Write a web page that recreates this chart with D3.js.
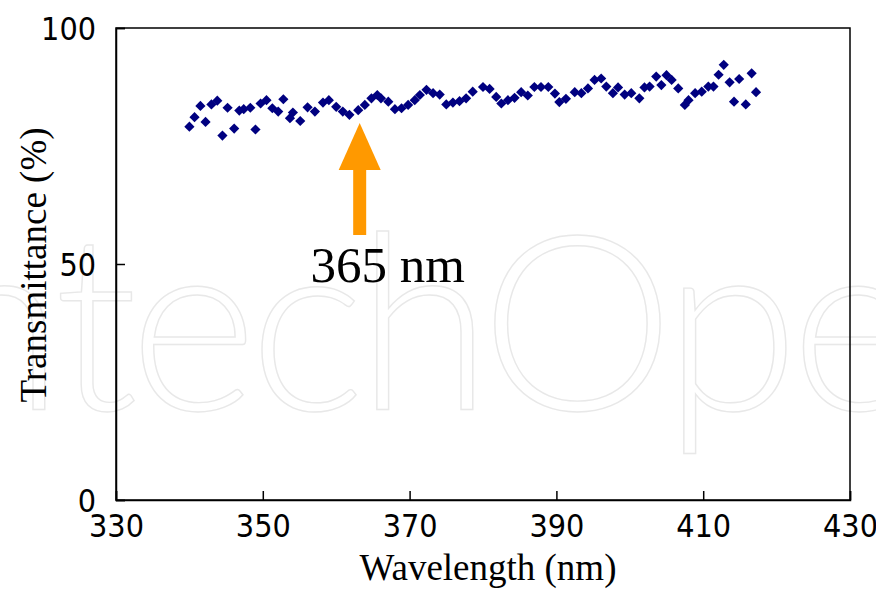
<!DOCTYPE html>
<html><head><meta charset="utf-8">
<script src="https://cdn.jsdelivr.net/npm/d3@7"></script>
<style>body{margin:0;background:#fff}svg{display:block}</style>
</head><body>
<script>
const wavelength = [340.0,340.7,341.5,342.2,343.0,343.8,344.5,345.2,346.1,346.8,347.4,348.3,349.0,349.7,350.5,351.3,352.1,352.8,353.7,354.1,355.1,356.1,357.1,358.2,359.0,360.0,360.9,361.8,363.0,363.9,364.8,365.6,366.1,367.1,368.0,368.9,369.8,370.7,371.4,372.3,373.2,374.1,375.0,375.9,376.8,377.7,378.6,380.0,380.9,381.8,382.5,383.4,384.3,385.2,386.1,387.0,387.9,388.9,389.8,390.4,391.3,392.5,393.4,394.3,395.2,396.1,396.8,397.7,398.4,399.3,400.2,401.3,402.0,402.7,403.6,404.3,405.0,405.7,406.6,407.5,408.0,408.9,409.8,410.7,411.4,412.1,412.8,413.6,414.2,414.9,415.8,416.6,417.2];
const transmittance = [79.1,81.1,83.5,80.1,83.8,84.6,77.2,83.1,78.7,82.5,82.8,83.1,78.5,84.0,84.7,83.0,82.3,84.9,80.9,82.1,80.3,83.2,82.3,84.2,84.7,83.3,82.3,81.6,82.6,83.7,85.1,85.8,85.1,84.4,82.8,83.0,83.7,84.7,85.8,86.9,86.2,85.9,83.8,84.2,84.5,85.1,86.5,87.5,87.1,85.4,84.0,84.7,85.2,86.4,85.7,87.5,87.5,87.5,86.1,84.3,85.0,86.4,86.2,87.2,89.0,89.3,87.6,86.2,87.4,85.9,86.2,85.1,87.4,87.6,89.7,87.9,90.0,89.0,87.2,83.7,84.7,86.2,86.5,87.6,87.6,90.1,92.2,88.5,84.4,89.2,83.8,90.4,86.4];
const xTicks = [330,350,370,390,410,430];
const yTicks = [0,50,100];
const annotation = {wl: 363.2, label: "365 nm"};

const W = 876, H = 589;
const svg = d3.select("body").append("svg").attr("width", W).attr("height", H);

// watermark
svg.append("text").attr("x", -125).attr("y", 410)
  .attr("font-family","Lato, 'Open Sans', sans-serif").attr("font-size", 245).attr("font-weight", 300)
  .attr("letter-spacing", -8)
  .attr("fill","none").attr("stroke","#e8e8e8").attr("stroke-width",1.4)
  .text("IntechOpen");

const x = d3.scaleLinear().domain([330,430]).range([116,850]);
const y = d3.scaleLinear().domain([0,100]).range([500,28]);

// frame
svg.append("rect").attr("x",116).attr("y",28).attr("width",734).attr("height",472)
  .attr("fill","none").attr("stroke","#000").attr("stroke-width",1.5);

const xAxis = svg.append("g").attr("transform","translate(0,500)")
  .call(d3.axisBottom(x).tickValues(xTicks).tickSize(-9).tickPadding(14).tickFormat(d3.format("d")));
const yAxis = svg.append("g").attr("transform","translate(116,0)")
  .call(d3.axisLeft(y).tickValues(yTicks).tickSize(-9).tickPadding(20).tickFormat(d3.format("d")));
[xAxis,yAxis].forEach(g=>{
  g.select(".domain").attr("stroke","#000").attr("stroke-width",1.5);
  g.selectAll(".tick line").attr("stroke","#000").attr("stroke-width",1.5);
  g.selectAll(".tick text").attr("font-family","'DejaVu Sans Condensed', 'DejaVu Sans', sans-serif")
    .attr("font-stretch","condensed").attr("font-size",32).attr("fill","#000");
});
xAxis.selectAll(".tick text").attr("dy","0.71em");
yAxis.selectAll(".tick text").attr("dy","0.35em");

// data points
const sym = d3.symbol().type(d3.symbolSquare).size(52);
svg.append("g").selectAll("path").data(wavelength.map((w,i)=>[w,transmittance[i]]))
  .join("path").attr("d", sym)
  .attr("transform", d=>`translate(${x(d[0])},${y(d[1])}) rotate(45)`)
  .attr("fill","#000080");

// arrow
const ax = x(annotation.wl);
svg.append("rect").attr("x", ax-6.5).attr("y",168).attr("width",13).attr("height",67).attr("fill","#FF9900");
svg.append("path").attr("d",`M${ax},123 L${ax+21},170 L${ax-21},170 Z`).attr("fill","#FF9900");
svg.append("text").attr("x", ax+28).attr("y",282).attr("text-anchor","middle")
  .attr("font-family","'Liberation Serif', 'Times New Roman', serif").attr("font-size",51)
  .text(annotation.label);

// axis titles
svg.append("text").attr("x",488).attr("y",580).attr("text-anchor","middle")
  .attr("font-family","'Liberation Serif', serif").attr("font-size",37).text("Wavelength (nm)");
svg.append("text").attr("transform","translate(46,265) rotate(-90)").attr("text-anchor","middle")
  .attr("font-family","'Liberation Serif', serif").attr("font-size",37).text("Transmittance (%)");
</script>
</body></html>
